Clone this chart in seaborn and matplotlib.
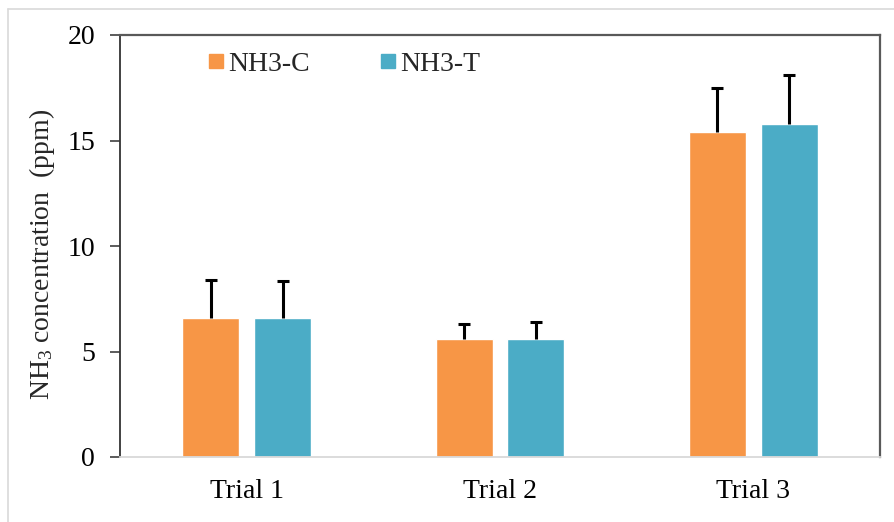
import matplotlib
matplotlib.use("Agg")
import matplotlib.pyplot as plt
from matplotlib.lines import Line2D
import seaborn as sns
import pandas as pd

trials = ["Trial 1", "Trial 2", "Trial 3"]
series = ["NH3-C", "NH3-T"]
nh3_c = [6.6, 5.6, 15.4]
nh3_t = [6.6, 5.6, 15.8]
err_c = [1.8, 0.7, 2.1]
err_t = [1.75, 0.8, 2.3]
colors = ["#F79646", "#4BACC6"]
y_ticks = [0, 5, 10, 15, 20]

df = pd.DataFrame({
    "trial": trials * 2,
    "series": [series[0]] * 3 + [series[1]] * 3,
    "value": nh3_c + nh3_t,
    "err": err_c + err_t,
})

sns.set_theme(style="white")
plt.rcParams["font.family"] = ["Liberation Serif", "DejaVu Serif"]
plt.rcParams["mathtext.fontset"] = "custom"
plt.rcParams["mathtext.rm"] = "Liberation Serif"
plt.rcParams["mathtext.default"] = "rm"

FS = 20

fig = plt.figure(figsize=(8.94, 5.22), dpi=100)
ax = fig.add_axes([120 / 894, 1 - 457 / 522, (880 - 120) / 894, (457 - 35) / 522])

sns.barplot(data=df, x="trial", y="value", hue="series", order=trials,
            hue_order=series, palette=colors, width=0.568, gap=0.208,
            errorbar=None, saturation=1, legend=False, ax=ax)

# one-sided (upper) error bars on each bar
for cont, errs in zip(ax.containers, [err_c, err_t]):
    for patch, e in zip(cont.patches, errs):
        xc = patch.get_x() + patch.get_width() / 2
        h = patch.get_height()
        _, caps, _ = ax.errorbar([xc], [h], yerr=[[0], [e]], fmt="none",
                                 ecolor="black", elinewidth=2.2, capsize=4,
                                 capthick=2.2, zorder=3)
        caps[0].set_visible(False)

ax.set_xlim(-0.5, 2.5)
ax.set_ylim(0, 20)
ax.set_yticks(y_ticks)
ax.set_yticklabels([str(t) for t in y_ticks])
ax.set_xlabel("")
ax.set_ylabel("NH$_3$ concentration  (ppm)", fontsize=FS)
ax.yaxis.set_label_coords(-0.083, 0.48)
ax.tick_params(axis="y", which="both", left=True, length=7, width=1.2,
               color="#404040", labelsize=FS, pad=11)
ax.tick_params(axis="x", bottom=False, labelsize=FS, pad=10)
for lab in ax.get_xticklabels() + ax.get_yticklabels():
    lab.set_color("black")

for side in ["top", "right"]:
    ax.spines[side].set_visible(True)
    ax.spines[side].set_color("#595959")
    ax.spines[side].set_linewidth(1.6)
ax.spines["left"].set_color("#333333")
ax.spines["left"].set_linewidth(1.3)
ax.spines["bottom"].set_color("#d9d9d9")
ax.spines["bottom"].set_linewidth(1.3)

handles = [Line2D([0], [0], marker="s", linestyle="none", markersize=9.5,
                  markerfacecolor=c, markeredgecolor=c) for c in colors]
ax.legend(handles, series, loc="upper left", bbox_to_anchor=(0.077, 1.02),
          ncol=2, frameon=False, fontsize=FS, handletextpad=0.0,
          columnspacing=2.35, handlelength=0.9)

# light outer frame of the chart area
fig.add_artist(Line2D([8 / 894, 1], [1 - 9 / 522, 1 - 9 / 522],
                      transform=fig.transFigure, color="#d9d9d9", lw=1.2))
fig.add_artist(Line2D([8 / 894, 8 / 894], [0, 1 - 9 / 522],
                      transform=fig.transFigure, color="#d9d9d9", lw=1.2))

fig.savefig("out.png", dpi=100)
